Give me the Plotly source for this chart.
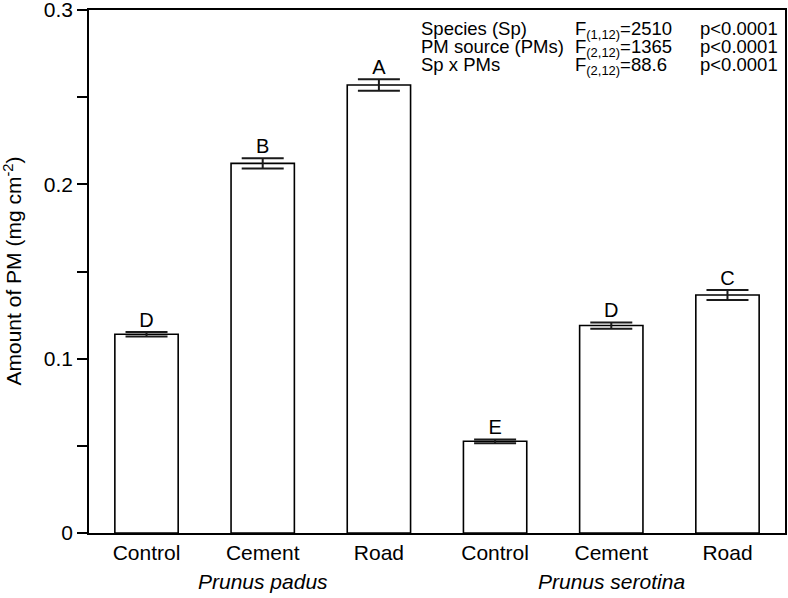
import plotly.graph_objects as go

# ---- data ----
categories = ["Control", "Cement", "Road", "Control", "Cement", "Road"]
species = ["Prunus padus", "Prunus serotina"]
values = [0.114, 0.212, 0.257, 0.0526, 0.119, 0.1365]
se = [0.0013, 0.0029, 0.0033, 0.0011, 0.0018, 0.0029]
letters = ["D", "B", "A", "E", "D", "C"]
y_ticks = [0, 0.1, 0.2, 0.3]
y_tick_labels = ["0", "0.1", "0.2", "0.3"]
y_title = "Amount of PM (mg cm<sup>-2</sup>)"
stat_terms = ["Species (Sp)", "PM source (PMs)", "Sp x PMs"]
stat_F = ["F<sub>(1,12)</sub>=2510", "F<sub>(2,12)</sub>=1365", "F<sub>(2,12)</sub>=88.6"]
stat_p = ["p<0.0001", "p<0.0001", "p<0.0001"]

FONT = "Liberation Sans, Arial, Helvetica, sans-serif"
xpos = list(range(len(categories)))

fig = go.Figure()
fig.add_trace(go.Bar(
    x=xpos, y=values, width=0.545,
    marker=dict(color="white", line=dict(color="black", width=1.6)),
    error_y=dict(type="data", array=se, visible=True, color="#1a1a1a",
                 thickness=2, width=21),
    showlegend=False,
))
fig.add_trace(go.Scatter(
    x=xpos, y=[v + e for v, e in zip(values, se)], mode="text",
    text=letters, textposition="top center",
    textfont=dict(family=FONT, size=20, color="black"),
    showlegend=False, hoverinfo="skip",
))

W, H = 788, 598
L, R, T, B = 89, 3, 10, 65
pw, ph = W - L - R, H - T - B

annotations = []
# species labels under groups
for i, sp in enumerate(species):
    annotations.append(dict(
        x=1 + 3 * i, y=-(568 - (H - B)) / ph, xref="x", yref="paper",
        text=f"<i>{sp}</i>", showarrow=False, xanchor="center", yanchor="top",
        font=dict(family=FONT, size=21, color="black"),
    ))

# y-axis title
annotations.append(dict(
    x=(12 - L) / pw, y=0.5, xref="paper", yref="paper", text=y_title,
    textangle=-90, showarrow=False, xanchor="center", yanchor="middle",
    font=dict(family=FONT, size=21, color="black"),
))

# stats table (top right)
col_x = [420, 574, 699]
row_top = [17, 35, 53]
for r in range(3):
    for c, col in enumerate([stat_terms, stat_F, stat_p]):
        annotations.append(dict(
            x=(col_x[c] - L) / pw, y=1 - (row_top[r] - T) / ph,
            xref="paper", yref="paper", text=col[r], showarrow=False,
            xanchor="left", yanchor="top", align="left",
            font=dict(family=FONT, size=18.5, color="black"),
            borderpad=0,
        ))

fig.update_layout(
    width=W, height=H,
    margin=dict(l=L, r=R, t=T, b=B, autoexpand=False),
    paper_bgcolor="white", plot_bgcolor="white",
    font=dict(family=FONT, color="black"),
    annotations=annotations,
)
fig.update_xaxes(
    range=[-0.495, 5.495], tickmode="array", tickvals=xpos, ticktext=categories,
    showline=True, linecolor="black", linewidth=1.6, mirror=True,
    ticks="", showgrid=False, zeroline=False, automargin=False,
    tickfont=dict(family=FONT, size=21, color="black"),
)
fig.update_yaxes(
    range=[0, 0.3], tickmode="array", tickvals=y_ticks, ticktext=y_tick_labels,
    showline=True, linecolor="black", linewidth=1.6, mirror=True,
    ticks="outside", ticklen=10, tickwidth=1.6, tickcolor="black",
    minor=dict(tickmode="array", tickvals=[0.05, 0.15, 0.25], ticks="outside",
               ticklen=10, tickwidth=1.6, tickcolor="black", showgrid=False),
    showgrid=False, zeroline=False, automargin=False, ticklabeloverflow="allow",
    tickfont=dict(family=FONT, size=21, color="black"),
)

fig.write_html("out.html", config={"displayModeBar": False},
               post_script="document.body.style.margin='0';document.body.style.padding='0';")
